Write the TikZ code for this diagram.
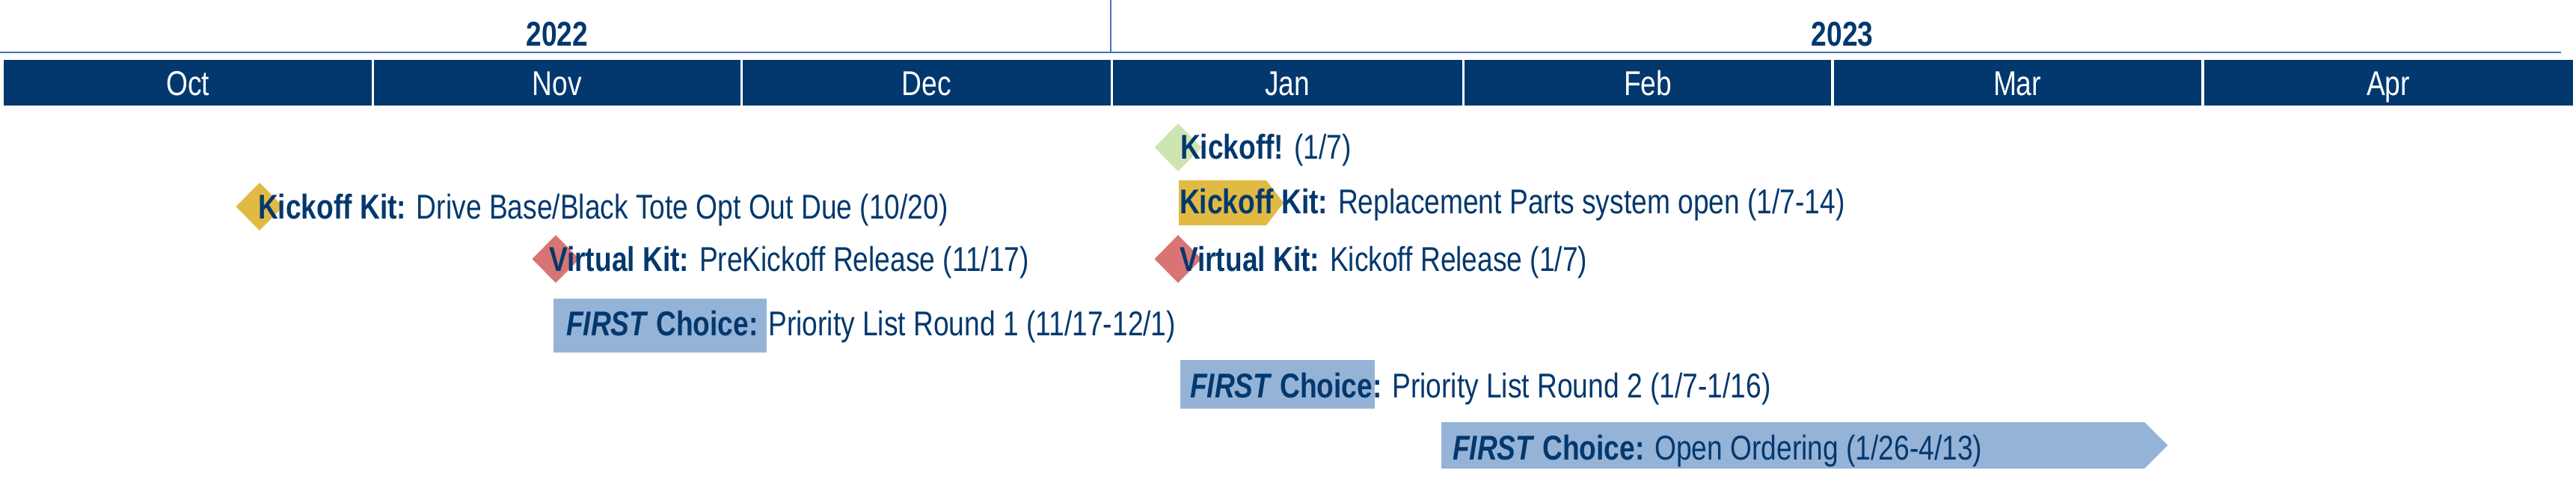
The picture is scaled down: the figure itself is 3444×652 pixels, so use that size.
\documentclass[tikz,border=0pt]{standalone}
\usepackage{fontspec}
\setmainfont[FakeStretch=0.808]{Liberation Sans}
\usetikzlibrary{shapes.geometric}
\definecolor{navy}{HTML}{02386E}
\definecolor{barblue}{HTML}{02386E}
\definecolor{lineblue}{HTML}{4472C4}
\definecolor{kitgold}{HTML}{E0BA42}
\definecolor{kitred}{HTML}{D97474}
\definecolor{kickgreen}{HTML}{CFE5B1}
\definecolor{choiceblue}{HTML}{95B3D7}
\begin{document}
\begin{tikzpicture}[x=1pt,y=-1pt,
  every node/.style={font=\fontsize{46}{52}\selectfont, text=navy, inner sep=0pt, outer sep=0pt},
  monthbar/.style={fill=barblue, minimum height=61pt, anchor=west},
  monthlabel/.style={text=white, anchor=base},
  yearlabel/.style={font=\fontsize{46}{52}\selectfont\bfseries, anchor=base},
  evtext/.style={anchor=base west},
  mark diamond/.style={diamond, aspect=1, minimum width=63pt, minimum height=64pt, fill=#1},
  yearline/.style={draw=lineblue, line width=2.5pt},
  yearsep/.style={draw=lineblue, line width=2.2pt}
]
\useasboundingbox (0,0) rectangle (3444,652);

% year header
\coordinate (hl) at (0,70);
\coordinate (hr) at (3424,70);
\coordinate (vt) at (1485,0);
\coordinate (vb) at (1485,70);
\draw[yearline] (hl) -- (hr);
\draw[yearsep] (vt) -- (vb);
\node[yearlabel] (y2022) at (745,62) {2022};
\node[yearlabel] (y2023) at (2463,62) {2023};

% month bars
\node[monthbar, minimum width=492pt] (oct) at (5,110.5) {};
\node[monthbar, minimum width=490pt] (nov) at (500,110.5) {};
\node[monthbar, minimum width=492pt] (dec) at (993,110.5) {};
\node[monthbar, minimum width=467pt] (jan) at (1488,110.5) {};
\node[monthbar, minimum width=490pt] (feb) at (1958,110.5) {};
\node[monthbar, minimum width=491pt] (mar) at (2452,110.5) {};
\node[monthbar, minimum width=493pt] (apr) at (2947,110.5) {};
\node[monthlabel] (octl) at (251,128) {Oct};
\node[monthlabel] (novl) at (745,128) {Nov};
\node[monthlabel] (decl) at (1239,128) {Dec};
\node[monthlabel] (janl) at (1721,128) {Jan};
\node[monthlabel] (febl) at (2203,128) {Feb};
\node[monthlabel] (marl) at (2697,128) {Mar};
\node[monthlabel] (aprl) at (3193,128) {Apr};

% markers
\node[mark diamond=kitgold] (d1) at (347,276) {};
\node[mark diamond=kitred] (d2) at (743,346) {};
\node[mark diamond=kickgreen] (d3) at (1575,197) {};
\node[mark diamond=kitred] (d4) at (1575,346) {};
\fill[kitgold] (1576,241) -- (1693,241) -- (1716,271) -- (1693,301) -- (1576,301) -- cycle;
\fill[choiceblue] (740,399) rectangle (1025,471);
\fill[choiceblue] (1578,481) rectangle (1838,546);
\fill[choiceblue] (1927,564) -- (2867,564) -- (2898,595) -- (2867,626) -- (1927,626) -- cycle;

% event texts
\node[evtext] (e1) at (345,292) {\textbf{Kickoff Kit:} Drive Base/Black Tote Opt Out Due (10/20)};
\node[evtext] (e2) at (734,362) {\textbf{Virtual Kit:} PreKickoff Release (11/17)};
\node[evtext] (e3) at (757,448) {\textbf{\textit{FIRST} Choice:} Priority List Round 1 (11/17-12/1)};
\node[evtext] (e4) at (1578,213) {\textbf{Kickoff!} (1/7)};
\node[evtext] (e5) at (1577,285) {\textbf{Kickoff Kit:} Replacement Parts system open (1/7-14)};
\node[evtext] (e6) at (1577,362) {\textbf{Virtual Kit:} Kickoff Release (1/7)};
\node[evtext] (e7) at (1591,531) {\textbf{\textit{FIRST} Choice:} Priority List Round 2 (1/7-1/16)};
\node[evtext] (e8) at (1942,614) {\textbf{\textit{FIRST} Choice:} Open Ordering (1/26-4/13)};
\end{tikzpicture}
\end{document}
